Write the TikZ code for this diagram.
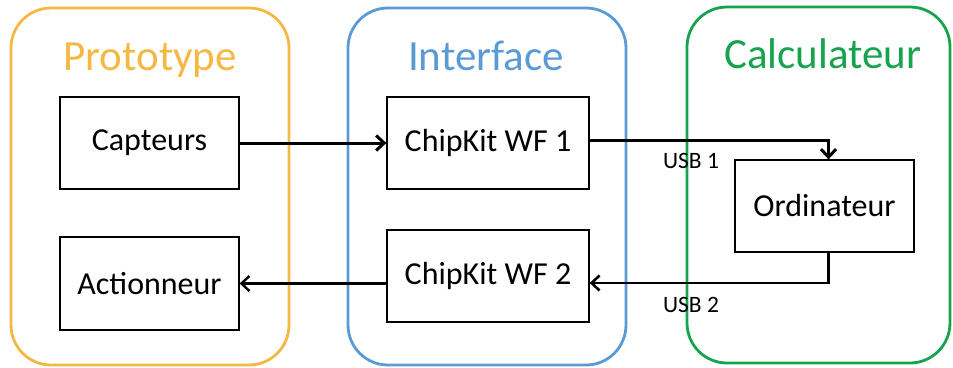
\documentclass[tikz,border=0pt]{standalone}
\usepackage{fontspec}
\setmainfont{Carlito}
\definecolor{grpOrange}{HTML}{F5B843}
\definecolor{grpBlue}{HTML}{5B9BD5}
\definecolor{grpGreen}{HTML}{17A34E}
\usetikzlibrary{arrows.meta,positioning}

\begin{document}
\begin{tikzpicture}[x=1pt, y=-1pt,
        group/.style={draw=#1, line width=2.8pt, rounded corners=40pt},
        title/.style={font=\fontsize{43}{48}\selectfont, text=#1, anchor=base},
        box/.style={draw, line width=1.3pt, minimum height=92pt,
                    font=\fontsize{32}{36}\selectfont, inner sep=0pt},
        usb/.style={font=\fontsize{23.5}{27}\selectfont, anchor=base},
        arr/.style={-{Straight Barb[length=8pt, width=15pt]}, line width=3pt}
      ]
        \useasboundingbox (0,0) rectangle (953,367);

        % groups
        \draw[group=grpOrange] (11,8) rectangle (289,365);
        \draw[group=grpBlue] (348,8) rectangle (626,365);
        \draw[group=grpGreen] (687,7) rectangle (950,363);
        \node[title=grpOrange] (tproto) at (150,70) {Prototype};
        \node[title=grpBlue] (tinter) at (486,70) {Interface};
        \node[title=grpGreen] (tcalc) at (823,68) {Calculateur};

        \node[box, minimum width=179pt] (capteurs) at (149.5,143) {Capteurs};
        \node[box, minimum width=179pt, minimum height=93pt] (actionneur) at (149.5,283.5) {Actionneur};
        \node[box, minimum width=202pt] (chip1) at (488,143) {ChipKit WF 1};
        \node[box, minimum width=202pt] (chip2) at (488,276) {ChipKit WF 2};
        \node[box, minimum width=179pt] (ordi) at (824.5,206) {Ordinateur};

        \node[usb] (usb1) at (691,168) {USB 1};
        \node[usb] (usb2) at (691,312) {USB 2};

        \draw[arr] (capteurs.east) -- (chip1.west);
        \draw[arr] ([yshift=3pt]chip1.east) -| ([xshift=4pt]ordi.north);
        \draw[arr, line width=2.6pt] ([xshift=4pt]ordi.south) |- ([yshift=-7pt]chip2.east);
        \draw[arr, line width=2.4pt] (chip2.west |- actionneur.east) -- (actionneur.east);
      \end{tikzpicture}
\end{document}
